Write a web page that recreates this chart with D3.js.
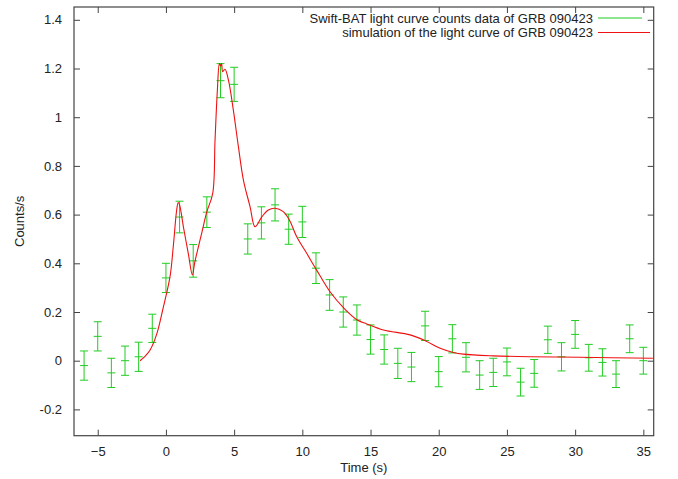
<!DOCTYPE html>
<html>
<head>
<meta charset="utf-8">
<script src="https://cdn.jsdelivr.net/npm/d3@7"></script>
<style>
  body { margin: 0; background: #fff; }
  text { font-family: "Liberation Sans", Arial, sans-serif; fill: #222; }
</style>
</head>
<body>
<div id="chart"></div>
<script>
// Swift-BAT light curve of GRB 090423, 1 s bins
var times = [-6, -5, -4, -3, -2, -1, 0, 1, 2, 3, 4, 5, 6, 7, 8, 9, 10, 11, 12, 13, 14, 15, 16, 17, 18, 19, 20,
             21, 22, 23, 24, 25, 26, 27, 28, 29, 30, 31, 32, 33, 34, 35];
var counts = [-0.02, 0.10, -0.05, 0.00, 0.016, 0.133, 0.34, 0.59, 0.41, 0.61, 1.15, 1.135, 0.50, 0.566, 0.64,
              0.54, 0.57, 0.38, 0.27, 0.20, 0.167, 0.087, 0.046, -0.011, -0.026, 0.143, -0.045,
              0.09, 0.014, -0.059, -0.048, -0.005, -0.088, -0.052, 0.086, 0.016, 0.108, 0.012, -0.007, -0.055, 0.09, 0.0];
var errors = [0.06, 0.06, 0.06, 0.06, 0.06, 0.058, 0.06, 0.065, 0.067, 0.063, 0.07, 0.07, 0.062, 0.066, 0.066,
              0.062, 0.064, 0.063, 0.063, 0.062, 0.062, 0.06, 0.06, 0.062, 0.06, 0.06, 0.062,
              0.058, 0.06, 0.059, 0.058, 0.057, 0.057, 0.057, 0.056, 0.058, 0.057, 0.055, 0.056, 0.055, 0.057, 0.055];

// simulated light curve
var simTimes = [-1.9, -1.5, -1.16, -0.67, -0.19, 0.3, 0.54, 0.79, 0.9, 1.0, 1.28, 1.64, 1.94, 2.1, 2.26, 2.62,
                2.99, 3.43, 3.6, 3.77, 3.92, 4.0, 4.08, 4.16, 4.33, 4.58, 4.94, 5.31, 5.68, 6.17, 6.53, 7.02,
                7.51, 8.0, 8.6, 9.05, 9.59, 10.32, 11.05, 12.03, 13.06, 14.03, 14.72, 15.94, 17.9, 19.05,
                20.1, 21.07, 21.8, 24.0, 26.7, 30.36, 35.7];
var simCounts = [0, 0.02, 0.044, 0.11, 0.22, 0.345, 0.47, 0.62, 0.65, 0.64, 0.55, 0.44, 0.352, 0.40, 0.44, 0.523,
                 0.61, 0.687, 0.906, 1.11, 1.22, 1.21, 1.22, 1.187, 1.197, 1.153, 1.03, 0.88, 0.742, 0.632, 0.55, 0.59,
                 0.619, 0.626, 0.612, 0.578, 0.509, 0.441, 0.372, 0.283, 0.215, 0.167, 0.151, 0.126, 0.106, 0.081,
                 0.051, 0.034, 0.027, 0.02, 0.016, 0.014, 0.01];

var xTicks = [-5, 0, 5, 10, 15, 20, 25, 30, 35];
var yTicks = [-0.2, 0, 0.2, 0.4, 0.6, 0.8, 1, 1.2, 1.4];
var legendLabels = ["Swift-BAT light curve counts data of GRB 090423",
                    "simulation of the light curve of GRB 090423"];

var width = 678, height = 479;
var margin = { top: 7, right: 24.3, bottom: 43.3, left: 74 };
var w = width - margin.left - margin.right,
    h = height - margin.top - margin.bottom;

var green = "#22cc22", red = "#ee1111";
var fontSize = "13px";

var svg = d3.select("#chart").append("svg")
    .attr("width", width)
    .attr("height", height);

var g = svg.append("g")
    .attr("transform", "translate(" + margin.left + "," + margin.top + ")");

var x = d3.scaleLinear().domain([-6.74, 35.76]).range([0, w]);
var y = d3.scaleLinear().domain([-0.308, 1.4526]).range([h, 0]);

// axes: gnuplot style, ticks inside on all four sides
var tickLen = 6;
g.append("g")
    .attr("transform", "translate(0," + h + ")")
    .call(d3.axisBottom(x).tickValues(xTicks).tickSize(-tickLen).tickPadding(11).tickFormat(d3.format("d")))
    .call(function(s) { s.select(".domain").remove(); });
g.append("g")
    .call(d3.axisTop(x).tickValues(xTicks).tickSize(-tickLen).tickFormat(""))
    .call(function(s) { s.select(".domain").remove(); });
g.append("g")
    .call(d3.axisLeft(y).tickValues(yTicks).tickSize(-tickLen).tickPadding(12).tickFormat(function(d) { return String(+d.toFixed(1)); }))
    .call(function(s) { s.select(".domain").remove(); });
g.append("g")
    .attr("transform", "translate(" + w + ",0)")
    .call(d3.axisRight(y).tickValues(yTicks).tickSize(-tickLen).tickFormat(""))
    .call(function(s) { s.select(".domain").remove(); });

g.selectAll(".tick line").attr("stroke", "#444");
g.selectAll(".tick text").style("font-size", fontSize).attr("fill", "#222")
    .style("font-family", "'Liberation Sans', Arial, sans-serif");

g.append("rect")
    .attr("width", w).attr("height", h)
    .attr("fill", "none").attr("stroke", "#444").attr("stroke-width", 1.2);

// error bars
var capW = 4;
var pts = times.map(function(t, i) { return { t: t, v: counts[i], e: errors[i] }; });
var bars = g.selectAll(".err").data(pts).enter().append("g").attr("class", "err")
    .attr("stroke", green).attr("stroke-width", 1);
bars.append("line")
    .attr("x1", function(d) { return x(d.t); }).attr("x2", function(d) { return x(d.t); })
    .attr("y1", function(d) { return y(d.v - d.e); }).attr("y2", function(d) { return y(d.v + d.e); });
bars.append("line")
    .attr("x1", function(d) { return x(d.t) - capW; }).attr("x2", function(d) { return x(d.t) + capW; })
    .attr("y1", function(d) { return y(d.v + d.e); }).attr("y2", function(d) { return y(d.v + d.e); });
bars.append("line")
    .attr("x1", function(d) { return x(d.t) - capW; }).attr("x2", function(d) { return x(d.t) + capW; })
    .attr("y1", function(d) { return y(d.v - d.e); }).attr("y2", function(d) { return y(d.v - d.e); });
bars.append("line")
    .attr("x1", function(d) { return x(d.t) - capW; }).attr("x2", function(d) { return x(d.t) + capW; })
    .attr("y1", function(d) { return y(d.v); }).attr("y2", function(d) { return y(d.v); });

// simulation curve
var line = d3.line()
    .x(function(d, i) { return x(simTimes[i]); })
    .y(function(d) { return y(d); })
    .curve(d3.curveCatmullRom);
g.append("path")
    .datum(simCounts)
    .attr("d", line)
    .attr("fill", "none").attr("stroke", red).attr("stroke-width", 1.1);

// legend
var legend = svg.selectAll(".legend").data(legendLabels).enter().append("g")
    .attr("class", "legend")
    .attr("transform", function(d, i) { return "translate(0," + (18 + i * 14.5) + ")"; });
legend.append("text")
    .attr("x", 593).attr("dy", "0.35em")
    .style("text-anchor", "end").style("font-size", fontSize)
    .text(function(d) { return d; });
legend.append("line")
    .attr("x1", 598).attr("x2", function(d, i) { return i === 0 ? 642 : 650; })
    .attr("stroke", function(d, i) { return i === 0 ? green : red; })
    .attr("stroke-width", 1.2);

// axis labels
svg.append("text")
    .attr("x", margin.left + w / 2).attr("y", 472)
    .style("text-anchor", "middle").style("font-size", fontSize)
    .text("Time (s)");
svg.append("text")
    .attr("transform", "translate(24," + (margin.top + h / 2) + ") rotate(-90)")
    .style("text-anchor", "middle").style("font-size", fontSize)
    .text("Counts/s");
</script>
</body>
</html>
